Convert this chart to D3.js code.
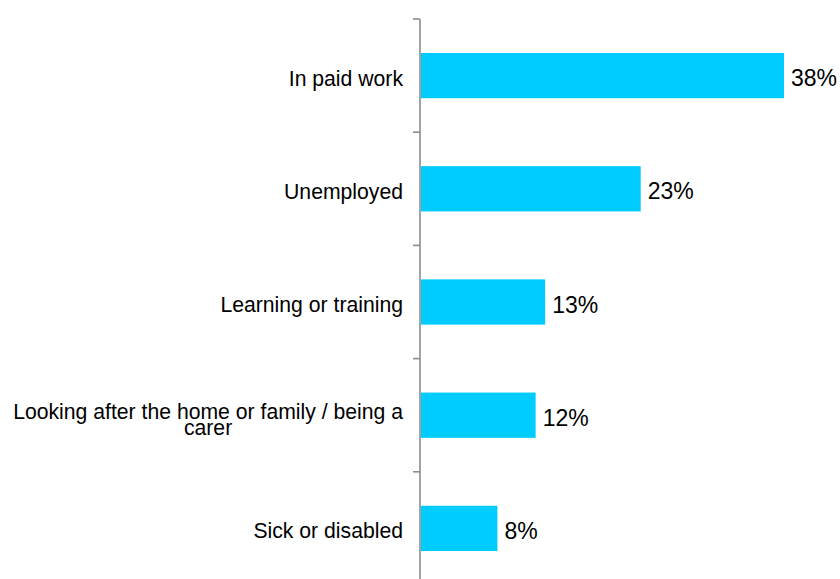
<!DOCTYPE html>
<html>
<head>
<meta charset="utf-8">
<script src="https://cdn.jsdelivr.net/npm/d3@7"></script>
<style>
  html, body { margin: 0; padding: 0; background: #fff; }
  svg { display: block; }
  text { font-family: Arial, "Liberation Sans", sans-serif; fill: #000; }
</style>
</head>
<body>
<svg id="chart" width="840" height="579"></svg>
<script>
// Employment status shares (%)
const categories = [
  "In paid work",
  "Unemployed",
  "Learning or training",
  "Looking after the home or family / being a carer",
  "Sick or disabled"
];
const values = [38, 23, 13, 12, 8];
// Wrapped label lines
const labelLines = [
  ["In paid work"],
  ["Unemployed"],
  ["Learning or training"],
  ["Looking after the home or family / being a", "carer"],
  ["Sick or disabled"]
];

const svg = d3.select("#chart");
const axisX = 420;

const x = d3.scaleLinear().domain([0, 38]).range([421, 784]);
const y = d3.scaleBand()
  .domain(categories)
  .range([19, 585])
  .paddingInner(0.6)
  .paddingOuter(0.3);

const data = categories.map((c, i) => ({ cat: c, value: values[i], lines: labelLines[i] }));

// Bars
svg.selectAll("rect.bar")
  .data(data)
  .join("rect")
  .attr("class", "bar")
  .attr("x", x(0))
  .attr("y", d => y(d.cat))
  .attr("width", d => x(d.value) - x(0))
  .attr("height", y.bandwidth())
  .attr("fill", "#00CCFF");

// Value labels
svg.selectAll("text.value")
  .data(data)
  .join("text")
  .attr("class", "value")
  .attr("x", d => x(d.value) + 7)
  .attr("y", d => y(d.cat) + y.bandwidth() / 2 + 10.5)
  .style("font-size", "23px")
  .text(d => d.value + "%");

// Vertical axis with ticks at category boundaries
const step = y.step();
const boundaries = d3.range(categories.length + 1).map(i => y.range()[0] + i * step);
svg.append("line")
  .attr("x1", axisX).attr("x2", axisX)
  .attr("y1", boundaries[0]).attr("y2", 579)
  .attr("stroke", "#8c8c8c").attr("stroke-width", 1.6);
svg.selectAll("line.tick")
  .data(boundaries)
  .join("line")
  .attr("class", "tick")
  .attr("x1", axisX - 7).attr("x2", axisX)
  .attr("y1", d => d).attr("y2", d => d)
  .attr("stroke", "#8c8c8c").attr("stroke-width", 1.6);

// Category labels, right-aligned; multi-line labels centred on their widest line
const labelRight = 403;
data.forEach(d => {
  const cy = y(d.cat) + y.bandwidth() / 2;
  if (d.lines.length === 1) {
    svg.append("text")
      .attr("x", labelRight)
      .attr("y", cy + 10)
      .attr("text-anchor", "end")
      .style("font-size", "21.2px")
      .text(d.lines[0]);
  } else {
    const t = svg.append("text")
      .attr("y", cy + 4)
      .attr("text-anchor", "middle")
      .style("font-size", "21.2px");
    const spans = d.lines.map((line, j) => t.append("tspan")
      .attr("dy", j === 0 ? 0 : 16)
      .text(line));
    const maxW = d3.max(spans, s => s.node().getComputedTextLength());
    spans.forEach(s => s.attr("x", labelRight - maxW / 2));
  }
});
</script>
</body>
</html>
